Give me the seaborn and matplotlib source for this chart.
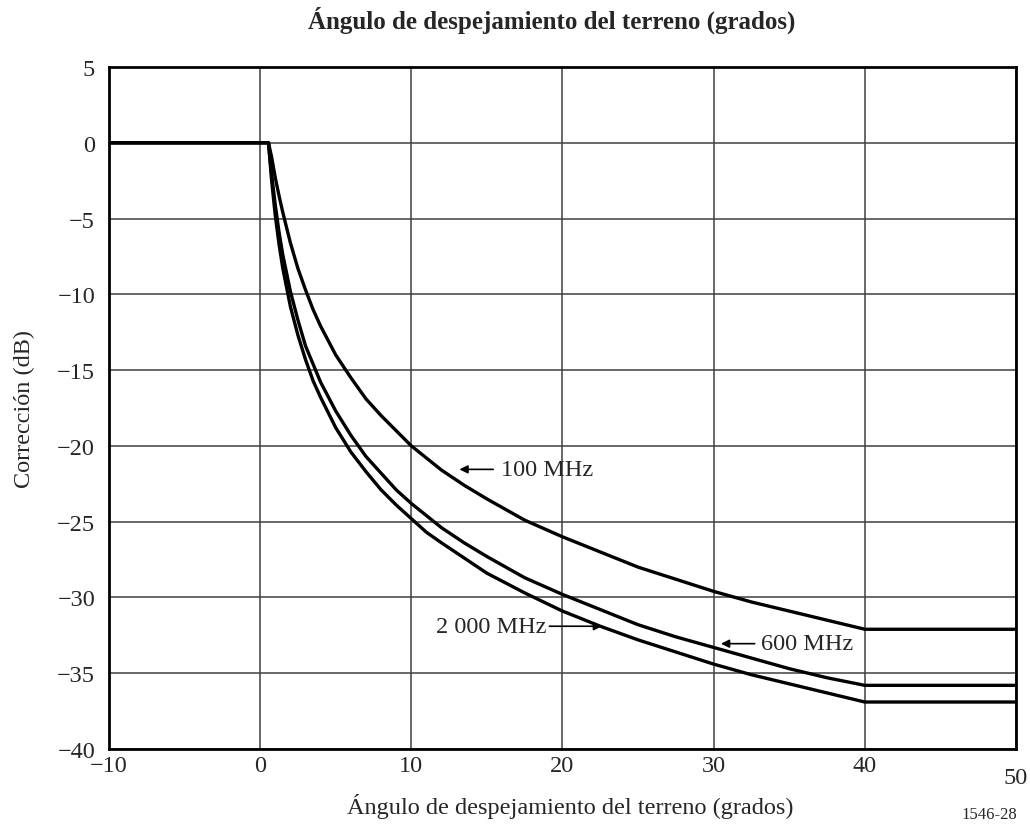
import numpy as np
import pandas as pd
import matplotlib.pyplot as plt
import matplotlib.transforms as mtransforms
import seaborn as sns

# ==============================================
# DATA
# ==============================================

angles = [-10, 0, 0.55, 0.75, 1, 1.25, 1.5, 2, 2.5, 3, 3.5, 4, 5, 6, 7, 8, 9,
          10, 11, 12, 13.5, 15, 17.5, 20, 22.5, 25, 27.5, 30, 32.5, 35, 37.5,
          40, 50]

corr_100 = [0, 0, 0, -0.9, -2.3, -3.5, -4.6, -6.6, -8.3, -9.7, -11.0, -12.1,
            -14.0, -15.5, -16.9, -18.0, -19.0, -20.0, -20.8, -21.6, -22.6,
            -23.5, -24.9, -26.0, -27.0, -28.0, -28.8, -29.6, -30.3, -30.9,
            -31.5, -32.1, -32.1]

corr_600 = [0, 0, 0, -2.0, -4.1, -5.9, -7.4, -9.8, -11.7, -13.4, -14.6, -15.8,
            -17.7, -19.3, -20.7, -21.8, -22.9, -23.8, -24.6, -25.4, -26.4,
            -27.3, -28.7, -29.8, -30.8, -31.8, -32.6, -33.3, -34.0, -34.7,
            -35.3, -35.8, -35.8]

corr_2000 = [0, 0, 0, -2.4, -4.8, -6.7, -8.3, -10.8, -12.7, -14.3, -15.7, -16.8,
             -18.8, -20.4, -21.7, -22.9, -23.9, -24.8, -25.7, -26.4, -27.4,
             -28.4, -29.7, -30.9, -31.9, -32.8, -33.6, -34.4, -35.1, -35.7,
             -36.3, -36.9, -36.9]

x_ticks = [-10, 0, 10, 20, 30, 40, 50]
y_ticks = [5, 0, -5, -10, -15, -20, -25, -30, -35, -40]

df = pd.DataFrame({
    "angle": angles * 3,
    "corr": corr_100 + corr_600 + corr_2000,
    "freq": ["100 MHz"] * len(angles) + ["600 MHz"] * len(angles)
            + ["2 000 MHz"] * len(angles),
})

# ==============================================
# PLOT
# ==============================================

sns.set_style("white")
plt.rcParams["font.family"] = ["Liberation Serif", "DejaVu Serif"]

fig = plt.figure(figsize=(10.3, 8.28), dpi=100)
ax = fig.add_axes([0.1058, 0.0942, 0.8806, 0.8237])

sns.lineplot(data=df, x="angle", y="corr", hue="freq", units="freq",
             estimator=None, sort=False, palette=["black"] * 3,
             linewidth=2.4, legend=False, ax=ax)

ax.set_xlim(-10, 50)
ax.set_ylim(-40, 5)
ax.set_xticks(x_ticks)
ax.set_yticks(y_ticks)
ax.set_xticklabels([str(t).replace("-", "\u2212") for t in x_ticks], fontsize=17.5)
ax.set_yticklabels([str(t).replace("-", "\u2212") for t in y_ticks], fontsize=17.5)
ax.tick_params(axis="x", length=0, pad=4)
ax.tick_params(axis="y", length=0, pad=10)
ax.grid(True, color="#404040", linewidth=1.1)

# the "50" label sits a bit lower in the original
last = ax.xaxis.get_major_ticks()[-1].label1
last.set_transform(last.get_transform() +
                   mtransforms.ScaledTranslation(0, -9 / 72, fig.dpi_scale_trans))

for s in ax.spines.values():
    s.set_color("black")
    s.set_linewidth(2)

ax.set_xlabel("Ángulo de despejamiento del terreno (grados)", fontsize=17.5)
ax.xaxis.set_label_coords(0.509, -0.064)
ax.set_ylabel("Corrección (dB)", fontsize=17.5, labelpad=16)
fig.text(0.536, 0.975, "Ángulo de despejamiento del terreno (grados)",
         ha="center", va="center", fontsize=18, fontweight="bold")
fig.text(0.961, 0.016, "1546-28", ha="center", va="center", fontsize=12)

arrow = dict(arrowstyle="-|>", color="black", lw=1.2, mutation_scale=12)
ax.annotate("", xy=(13.0, -21.55), xytext=(15.6, -21.55), arrowprops=arrow)
ax.text(15.9, -21.55, "100 MHz", fontsize=17.5, va="center", ha="left")
ax.annotate("", xy=(30.3, -33.05), xytext=(32.9, -33.05), arrowprops=arrow)
ax.text(33.1, -33.05, "600 MHz", fontsize=17.5, va="center", ha="left")
ax.annotate("", xy=(22.8, -31.9), xytext=(18.95, -31.9), arrowprops=arrow)
ax.text(18.95, -31.9, "2 000 MHz", fontsize=17.5, va="center", ha="right")

plt.savefig("out.png", dpi=100)
plt.close()
